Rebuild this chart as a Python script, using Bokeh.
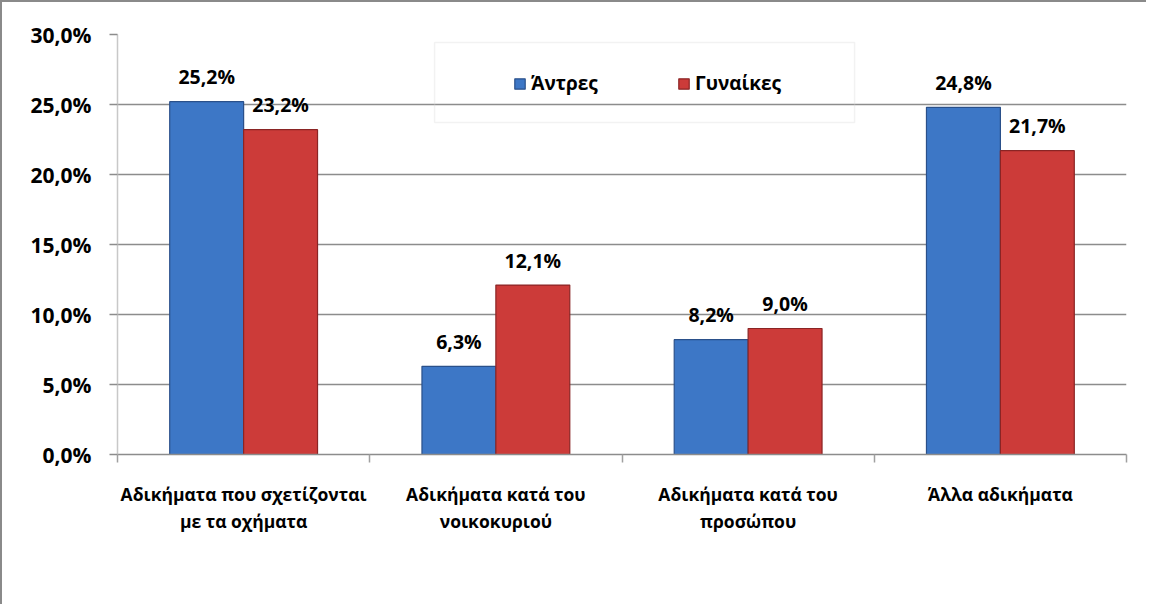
from bokeh.plotting import figure
from bokeh.models import (ColumnDataSource, Range1d, FixedTicker, Legend, LegendItem,
                          BoxAnnotation)
from bokeh.core.properties import value
from bokeh.embed import file_html
from bokeh.resources import INLINE

# ---- data ----
categories = ["Αδικήματα που σχετίζονται\nμε τα οχήματα",
              "Αδικήματα κατά του\nνοικοκυριού",
              "Αδικήματα κατά του\nπροσώπου",
              "Άλλα αδικήματα"]
series_names = ["Άντρες", "Γυναίκες"]
men = [25.2, 6.3, 8.2, 24.8]
women = [23.2, 12.1, 9.0, 21.7]
y_ticks = [0, 5, 10, 15, 20, 25, 30]
y_tick_labels = ["0,0%", "5,0%", "10,0%", "15,0%", "20,0%", "25,0%", "30,0%"]

FONT = "Open Sans"
BLUE, BLUE_EDGE = "#3D77C6", "#2A508A"
RED, RED_EDGE = "#CC3B39", "#8A2424"
GRID = "#8C8C8C"

n = len(categories)
centers = [i + 0.5 for i in range(n)]
bw = 0.293

def fmt(v):
    return f"{v:.1f}%".replace(".", ",")

src_m = ColumnDataSource(dict(x=[c - bw / 2 for c in centers], y=men,
                              lab=[fmt(v) for v in men]))
src_w = ColumnDataSource(dict(x=[c + bw / 2 for c in centers], y=women,
                              lab=[fmt(v) for v in women]))

p = figure(width=1146, height=604, output_backend="svg", toolbar_location=None,
           x_range=Range1d(0, n), y_range=Range1d(0, 30),
           min_border_left=115, min_border_right=22, min_border_top=32,
           min_border_bottom=152)
p.outline_line_color = None
p.background_fill_color = "white"
p.border_fill_color = "white"
p.styles = {"border-left": "2px solid #8a8a8a", "border-top": "2px solid #8a8a8a",
            "box-sizing": "border-box"}

# grid
p.xgrid.grid_line_color = None
p.ygrid.ticker = FixedTicker(ticks=y_ticks)
p.ygrid.grid_line_color = GRID
p.ygrid.grid_line_width = 1.5

# y axis
p.yaxis.ticker = FixedTicker(ticks=y_ticks)
p.yaxis.major_label_overrides = {t: l for t, l in zip(y_ticks, y_tick_labels)}
p.yaxis.axis_line_color = "#C8C8C8"
p.yaxis.axis_line_width = 1.5
p.yaxis.major_tick_line_color = GRID
p.yaxis.major_tick_line_width = 1.5
p.yaxis.major_tick_out = 8
p.yaxis.major_tick_in = 0
p.yaxis.minor_tick_line_color = None
p.yaxis.major_label_standoff = 18
p.yaxis.major_label_text_font = FONT
p.yaxis.major_label_text_font_style = "bold"
p.yaxis.major_label_text_font_size = "21px"
p.yaxis.major_label_text_color = "black"

# x axis
p.xaxis.ticker = FixedTicker(ticks=centers, minor_ticks=list(range(n + 1)))
p.xaxis.major_label_overrides = {c: l for c, l in zip(centers, categories)}
p.xaxis.axis_line_color = GRID
p.xaxis.axis_line_width = 1.5
p.xaxis.major_tick_line_color = None
p.xaxis.major_tick_out = 8
p.xaxis.major_tick_in = 0
p.xaxis.minor_tick_line_color = "#A0A0A0"
p.xaxis.minor_tick_line_width = 1.5
p.xaxis.minor_tick_out = 8
p.xaxis.minor_tick_in = 0
p.xaxis.major_label_standoff = 19
p.xaxis.major_label_text_font = FONT
p.xaxis.major_label_text_font_style = "bold"
p.xaxis.major_label_text_font_size = "17.5px"
p.xaxis.major_label_text_color = "black"
p.xaxis.major_label_text_line_height = 1.15

# bars
rm = p.vbar(x="x", top="y", width=bw, source=src_m, fill_color=BLUE,
            line_color=BLUE_EDGE, line_width=1.2)
rw = p.vbar(x="x", top="y", width=bw, source=src_w, fill_color=RED,
            line_color=RED_EDGE, line_width=1.2)

for s in (src_m, src_w):
    p.text(x="x", y="y", text="lab", source=s, text_font=value(FONT),
           text_font_style="bold", text_font_size="19.5px", text_color="black",
           text_align="center", text_baseline="middle", y_offset=-25)

# legend box
p.add_layout(BoxAnnotation(left=1.257, right=2.922, bottom=23.71, top=29.43,
                           fill_alpha=0, line_color="#D4D4D4", line_width=1.5,
                           level="underlay"))

legend = Legend(items=[LegendItem(label=series_names[0], renderers=[rm]),
                       LegendItem(label=series_names[1], renderers=[rw])],
                orientation="horizontal", location=(396, 358),
                padding=0, margin=0, spacing=0,
                glyph_width=13, glyph_height=13, label_standoff=5,
                label_width=146, border_line_color=None,
                background_fill_alpha=0,
                label_text_font=FONT, label_text_font_style="bold",
                label_text_font_size="19px", label_text_color="black")
p.add_layout(legend)

open("out.html", "w").write(file_html(p, INLINE))
